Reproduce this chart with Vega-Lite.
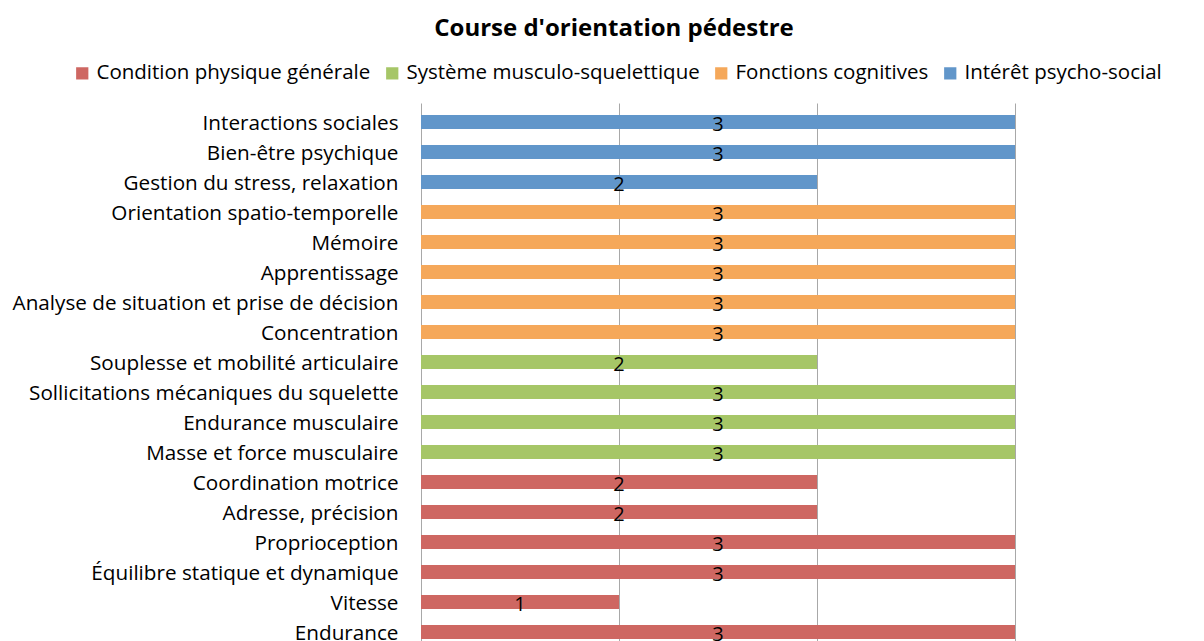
{
  "$schema": "https://vega.github.io/schema/vega-lite/v6.json",
  "autosize": {"type": "none"},
  "padding": {"left": 421, "top": 103, "right": 189, "bottom": 0},
  "width": 594,
  "height": 548,
  "background": "white",
  "title": {
    "text": "Course d'orientation pédestre",
    "font": "Open Sans",
    "fontSize": 24,
    "fontWeight": "bold",
    "color": "black",
    "anchor": "middle",
    "dx": -104,
    "offset": -2,
    "baseline": "bottom"
  },
  "data": {
    "values": [
      {"critere": "Interactions sociales", "categorie": "Intérêt psycho-social", "valeur": 3},
      {"critere": "Bien-être psychique", "categorie": "Intérêt psycho-social", "valeur": 3},
      {"critere": "Gestion du stress, relaxation", "categorie": "Intérêt psycho-social", "valeur": 2},
      {"critere": "Orientation spatio-temporelle", "categorie": "Fonctions cognitives", "valeur": 3},
      {"critere": "Mémoire", "categorie": "Fonctions cognitives", "valeur": 3},
      {"critere": "Apprentissage", "categorie": "Fonctions cognitives", "valeur": 3},
      {"critere": "Analyse de situation et prise de décision", "categorie": "Fonctions cognitives", "valeur": 3},
      {"critere": "Concentration", "categorie": "Fonctions cognitives", "valeur": 3},
      {"critere": "Souplesse et mobilité articulaire", "categorie": "Système musculo-squelettique", "valeur": 2},
      {"critere": "Sollicitations mécaniques du squelette", "categorie": "Système musculo-squelettique", "valeur": 3},
      {"critere": "Endurance musculaire", "categorie": "Système musculo-squelettique", "valeur": 3},
      {"critere": "Masse et force musculaire", "categorie": "Système musculo-squelettique", "valeur": 3},
      {"critere": "Coordination motrice", "categorie": "Condition physique générale", "valeur": 2},
      {"critere": "Adresse, précision", "categorie": "Condition physique générale", "valeur": 2},
      {"critere": "Proprioception", "categorie": "Condition physique générale", "valeur": 3},
      {"critere": "Équilibre statique et dynamique", "categorie": "Condition physique générale", "valeur": 3},
      {"critere": "Vitesse", "categorie": "Condition physique générale", "valeur": 1},
      {"critere": "Endurance", "categorie": "Condition physique générale", "valeur": 3}
    ]
  },
  "encoding": {
    "y": {
      "field": "critere",
      "type": "nominal",
      "sort": null,
      "title": null,
      "scale": {"paddingInner": 0.53, "paddingOuter": 0.4},
      "axis": {
        "domain": false,
        "ticks": false,
        "grid": false,
        "labelPadding": 23,
        "labelOffset": 2,
        "labelFont": "Open Sans",
        "labelFontSize": 20.7,
        "labelColor": "black",
        "labelLimit": 500
      }
    }
  },
  "layer": [
    {
      "mark": {"type": "bar", "stroke": null},
      "encoding": {
        "x": {
          "field": "valeur",
          "type": "quantitative",
          "title": null,
          "scale": {"domain": [0, 3], "nice": false},
          "axis": {
            "values": [0, 1, 2, 3],
            "grid": true,
            "gridColor": "#A8A8A8",
            "gridWidth": 1,
            "domain": false,
            "ticks": false,
            "labels": false
          }
        },
        "color": {
          "field": "categorie",
          "type": "nominal",
          "title": null,
          "scale": {
            "domain": ["Condition physique générale", "Système musculo-squelettique", "Fonctions cognitives", "Intérêt psycho-social"],
            "range": ["#CE6762", "#A6C667", "#F5A85A", "#6196CA"]
          },
          "legend": {
            "orient": "none",
            "direction": "horizontal",
            "legendX": -349,
            "legendY": -40,
            "symbolType": "square",
            "symbolSize": 150,
            "symbolStrokeWidth": 0,
            "labelFont": "Open Sans",
            "labelFontSize": 20.5,
            "labelColor": "black",
            "labelOffset": 4,
            "columnPadding": 11,
            "labelLimit": 400
          }
        }
      }
    },
    {
      "transform": [{"calculate": "datum.valeur / 2", "as": "milieu"}],
      "mark": {"type": "text", "font": "Open Sans", "fontSize": 20, "color": "black", "baseline": "middle", "dy": 3},
      "encoding": {
        "x": {"field": "milieu", "type": "quantitative"},
        "text": {"field": "valeur", "type": "quantitative"}
      }
    }
  ],
  "config": {"view": {"stroke": null}}
}
